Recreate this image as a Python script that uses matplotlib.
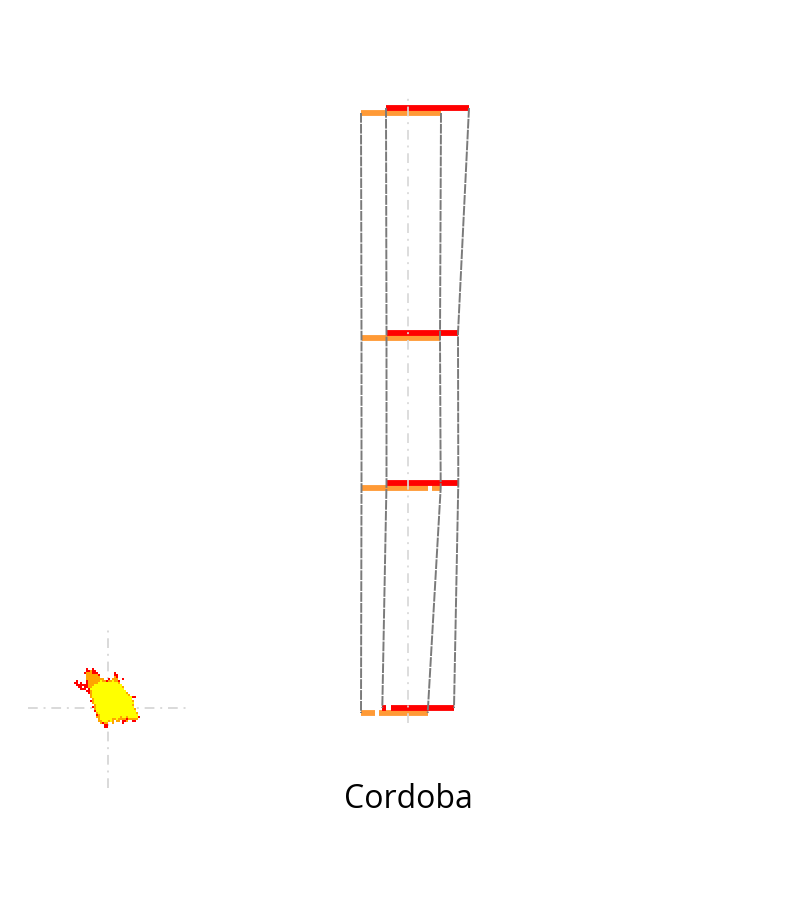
import numpy as np
import matplotlib
matplotlib.use("Agg")
import matplotlib.pyplot as plt
from matplotlib.colors import to_rgba

# ---------------- data ----------------
title = "Cordoba"

# profile levels (top to bottom)
levels = [8, 5, 3, 0]

# horizontal extents of the two series at each level (offset from centre)
red_segments = [
    [(-22, 61)],
    [(-21.5, 50)],
    [(-21.5, 50.3)],
    [(-25.7, -22.3), (-17, 46)],
]
orange_segments = [
    [(-47, 33)],
    [(-46.5, 32)],
    [(-46.5, 19.7), (24, 32.7)],
    [(-47, -33), (-29, 19.7)],
]

# burned-area raster (r = red, o = orange, y = yellow, . = empty)
blob_rows = [
    "......r..r",
    "......rrorr",
    ".....rooorrr........r",
    "......oooooor.......rr",
    "......ooooooo.......or",
    "......ooooooooo..r.ooo..r",
    ".r....rooooooyoorooyoor",
    "rr.r..roooooyyyyyyyyyyo",
    ".rrrrrroooyyyyyyyyyyyyyy",
    "..rr.rrooyyyyyyyyyyyyyyyo",
    "...rrr.ryyyyyyyyyyyyyyyyy",
    "......rroyyyyyyyyyyyyyyyyy.",
    ".......royyyyyyyyyyyyyyyyyo",
    "........oyyyyyyyyyyyyyyyyyyo",
    "........oyyyyyyyyyyyyyyyyyyyyrr",
    ".........oyyyyyyyyyyyyyyyyyyy",
    "........royyyyyyyyyyyyyyyyyyyo",
    ".........oyyyyyyyyyyyyyyyyyyyy",
    "..........oyyyyyyyyyyyyyyyyyyo",
    ".........royyyyyyyyyyyyyyyyyyy",
    "..........oyyyyyyyyyyyyyyyyyyyo",
    "..........ryyyyyyyyyyyyyyyyyyyy",
    "...........oyyyyyyyyyyyyyyyyyyyo",
    "...........royyyyyyyyyyyyyyyyyyy",
    "...........ooyyyyyyyyyyoyyoyyyyyr",
    "............oyyyyyyooyoooorooooo",
    "............ooyyyoyo.oo.rro..rr",
    ".............oroo..o....r",
    "...............rr",
    "...............rr",
]
blob_colors = {"r": "#ff0000", "o": "#ffa500", "y": "#ffff00"}

RED = "#ff0000"
ORANGE = "#ff9a36"
GRID = "#d9d9d9"

W, H = 800, 900
fig = plt.figure(figsize=(W / 100, H / 100), dpi=100)


def px_axes(x0, y0, x1, y1):
    return fig.add_axes([x0 / W, 1 - y1 / H, (x1 - x0) / W, (y1 - y0) / H])


# ---------------- profile ----------------
ax = px_axes(308, 98, 508, 723)
ax.set_xlim(-100, 100)
ax.set_ylim(-1 / 6, 8 + 1 / 6)
ax.axis("off")

off = 1 / 30.0
for series, color, dy in ((orange_segments, ORANGE, -off), (red_segments, RED, off)):
    for lev, segs in zip(levels, series):
        for a, b in segs:
            ax.hlines(lev + dy, a, b, colors=color, lw=4.2, zorder=2)

for series, dy in ((orange_segments, -off), (red_segments, off)):
    lefts = [min(a for a, b in segs) for segs in series]
    rights = [max(b for a, b in segs) for segs in series]
    ys = [lv + dy for lv in levels]
    for xs in (lefts, rights):
        ax.plot(xs, ys, color="#7a7a7a", lw=1.4, ls=(0, (5, 0.6)), zorder=3)

ax.axvline(0, color=GRID, lw=1.4, ls=(0, (5, 3, 1, 3)), zorder=4, alpha=0.9)

# ---------------- burned-area raster ----------------
bx = px_axes(28, 628, 188, 788)
bx.set_xlim(-40, 40)
bx.set_ylim(-40, 40)
bx.axis("off")
ncols = max(len(r) for r in blob_rows)
nrows = len(blob_rows)
img = np.zeros((nrows, ncols, 4))
for i, row in enumerate(blob_rows):
    for j, ch in enumerate(row):
        if ch in blob_colors:
            img[i, j] = to_rgba(blob_colors[ch])
bx.axhline(0, color=GRID, lw=1.4, ls=(0, (5, 3, 1, 3)), zorder=1)
bx.axvline(0, color=GRID, lw=1.4, ls=(0, (5, 3, 1, 3)), zorder=1)
bx.imshow(img, extent=[-17, -17 + ncols, 20 - nrows, 20], interpolation="nearest",
          zorder=2, aspect="auto")

# ---------------- title ----------------
fig.text(408 / W, 1 - 800 / H, title, ha="center", va="center",
         fontsize=23, family=["Open Sans", "DejaVu Sans"], color="black")

fig.savefig("out.png", dpi=100)
